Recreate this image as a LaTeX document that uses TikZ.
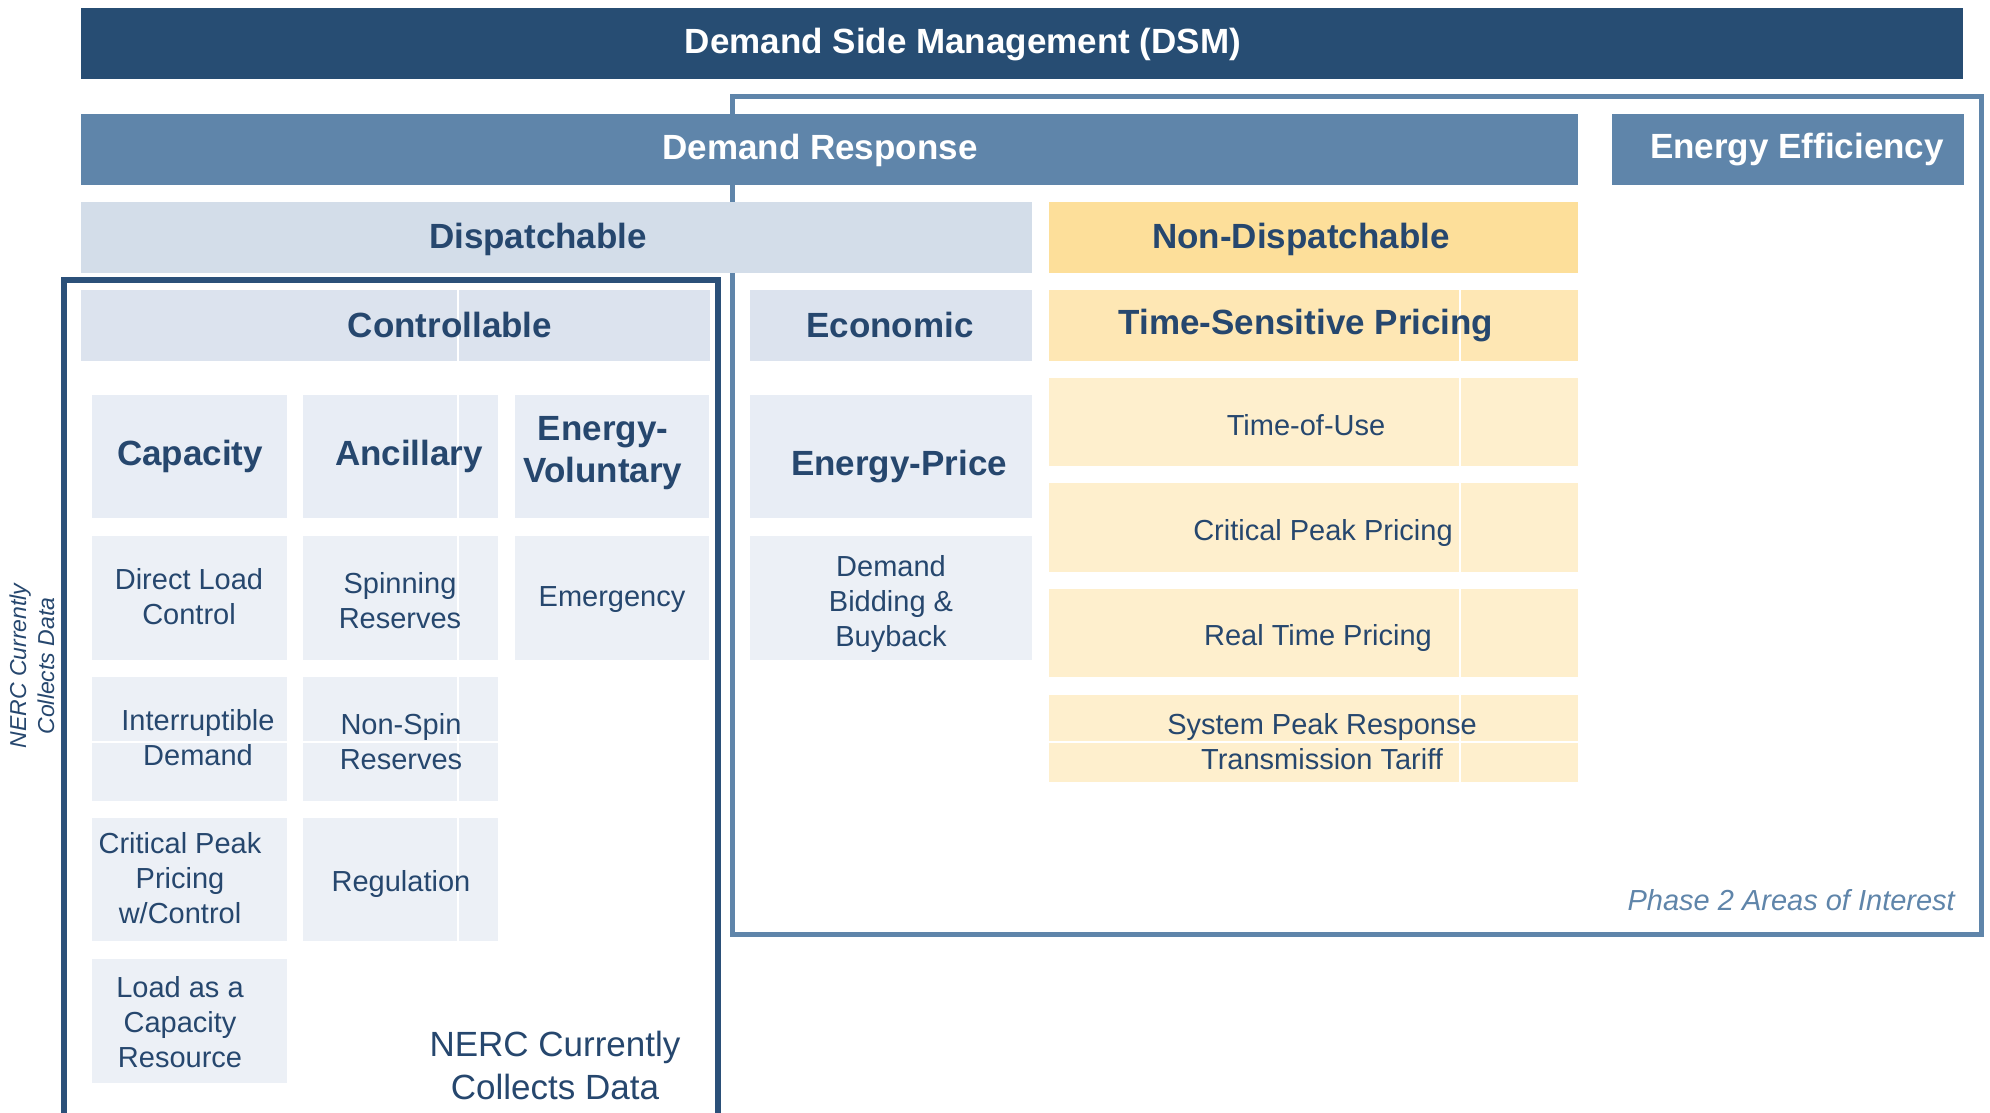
\documentclass[tikz,border=0pt]{standalone}
\usepackage{fontspec}
\setmainfont{Liberation Sans}
\definecolor{dsm}{HTML}{274D73}
\definecolor{drblue}{HTML}{5F85AA}
\definecolor{dispatch}{HTML}{D3DDE9}
\definecolor{ctrl}{HTML}{DCE3EE}
\definecolor{sub}{HTML}{E8EDF5}
\definecolor{item}{HTML}{ECF0F6}
\definecolor{nondisp}{HTML}{FDDF9A}
\definecolor{tsp}{HTML}{FEE7B4}
\definecolor{yitem}{HTML}{FEEFCD}
\definecolor{txt}{HTML}{26476E}
\definecolor{nercline}{HTML}{2B5079}
\newcommand\bx[6][]{\node[bx,#1,minimum width={(#5-#3)*1pt},minimum height={(#6-#4)*1pt}] (#2) at ({(#3+#5)/2},{(#4+#6)/2}) {};}
\begin{document}
\begin{tikzpicture}[x=1pt,y=-1pt,
  bx/.style={draw=none,inner sep=0pt,outer sep=0pt,rectangle},
  lbl/.style={text=txt,align=center,inner sep=0pt},
  hd/.style={lbl,font=\fontsize{35}{42}\selectfont\bfseries},
  itm/.style={lbl,font=\fontsize{29}{35}\selectfont},
  seam/.style={draw=white,line width=1.2pt}]
\useasboundingbox (0,0) rectangle (1990,1113);
\fill[white] (0,0) rectangle (1990,1113);
% frames
\bx[draw=drblue,line width=5pt]{phase}{732}{97}{1981}{934}
\bx[draw=nercline,line width=5.5pt]{nerc}{64}{280}{718}{1140}
% top bars
\bx[fill=dsm]{dsmb}{81}{8}{1963}{79}
\bx[fill=drblue]{drb}{81}{114}{1578}{185}
\bx[fill=drblue]{eeb}{1612}{114}{1964}{185}
\bx[fill=dispatch]{dispb}{81}{202}{1032}{273}
\bx[fill=nondisp]{ndispb}{1049}{202}{1578}{273}
\bx[fill=ctrl]{ctrlb}{81}{290}{710}{361}
\bx[fill=ctrl]{econb}{750}{290}{1032}{361}
\bx[fill=tsp]{tspb}{1049}{290}{1578}{361}
% sub headers
\bx[fill=sub]{capb}{92}{395}{287}{518}
\bx[fill=sub]{ancb}{303}{395}{498}{518}
\bx[fill=sub]{evb}{515}{395}{709}{518}
\bx[fill=sub]{epb}{750}{395}{1032}{518}
% items
\bx[fill=item]{dlcb}{92}{536}{287}{660}
\bx[fill=item]{spinb}{303}{536}{498}{660}
\bx[fill=item]{emerb}{515}{536}{709}{660}
\bx[fill=item]{dbbb}{750}{536}{1032}{660}
\bx[fill=item]{intrb}{92}{677}{287}{801}
\bx[fill=item]{nonsb}{303}{677}{498}{801}
\bx[fill=item]{cppcb}{92}{818}{287}{941}
\bx[fill=item]{regb}{303}{818}{498}{941}
\bx[fill=item]{lcrb}{92}{959}{287}{1083}
\bx[fill=yitem]{toub}{1049}{378}{1578}{466}
\bx[fill=yitem]{cppb}{1049}{483}{1578}{572}
\bx[fill=yitem]{rtpb}{1049}{589}{1578}{677}
\bx[fill=yitem]{sprb}{1049}{695}{1578}{782}
% seams
\foreach \a/\b in {290/361,395/518,536/660,677/801,818/941} \draw[seam] (458,\a) -- (458,\b);
\foreach \a/\b in {290/361,378/466,483/572,589/677,695/782} \draw[seam] (1460,\a) -- (1460,\b);
\draw[seam] (92,742) -- (287,742);
\draw[seam] (303,742) -- (498,742);
\draw[seam] (1049,742) -- (1578,742);
% labels
\node[hd,text=white] (tdsm) at (963,45) {Demand Side Management (DSM)};
\node[hd,text=white] (tdr) at (820,150) {Demand Response};
\node[hd,text=white] (tee) at (1797,150) {Energy Efficiency};
\node[hd] (tdisp) at (538,239) {Dispatchable};
\node[hd] (tndisp) at (1301,239) {Non-Dispatchable};
\node[hd] (tctrl) at (450,325) {Controllable};
\node[hd] (tecon) at (890,325) {Economic};
\node[hd] (ttsp) at (1306,326) {Time-Sensitive Pricing};
\node[hd] (tcap) at (190,456) {Capacity};
\node[hd] (tanc) at (409,456) {Ancillary};
\node[hd] (tev) at (603,453) {Energy-\\Voluntary};
\node[hd] (tep) at (899,467) {Energy-Price};
\node[itm] (tdlc) at (189,597) {Direct Load\\Control};
\node[itm] (tspin) at (400,601) {Spinning\\Reserves};
\node[itm] (temer) at (612,600) {Emergency};
\node[itm] (tdbb) at (891,604) {Demand\\Bidding \&\\Buyback};
\node[itm] (tintr) at (198,738) {Interruptible\\Demand};
\node[itm] (tnons) at (401,742) {Non-Spin\\Reserves};
\node[itm] (tcppc) at (180,878) {Critical Peak\\Pricing\\w/Control};
\node[itm] (treg) at (401,884) {Regulation};
\node[itm] (tlcr) at (180,1022) {Load as a\\Capacity\\Resource};
\node[itm] (ttou) at (1306,425) {Time-of-Use};
\node[itm] (tcpp) at (1323,533) {Critical Peak Pricing};
\node[itm] (trtp) at (1318,638) {Real Time Pricing};
\node[itm] (tspr) at (1322,742) {System Peak Response\\Transmission Tariff};
\node[lbl,text=drblue,anchor=east,font=\fontsize{29}{35}\selectfont\itshape] (tph) at (1955,900) {Phase 2 Areas of Interest};
\node[lbl,font=\fontsize{35}{43}\selectfont] (tnerc) at (555,1065) {NERC Currently\\Collects Data};
\node[lbl,rotate=90,font=\fontsize{23}{28}\selectfont\itshape] (tnercv) at (32,666) {NERC Currently\\Collects Data};
\end{tikzpicture}
\end{document}
